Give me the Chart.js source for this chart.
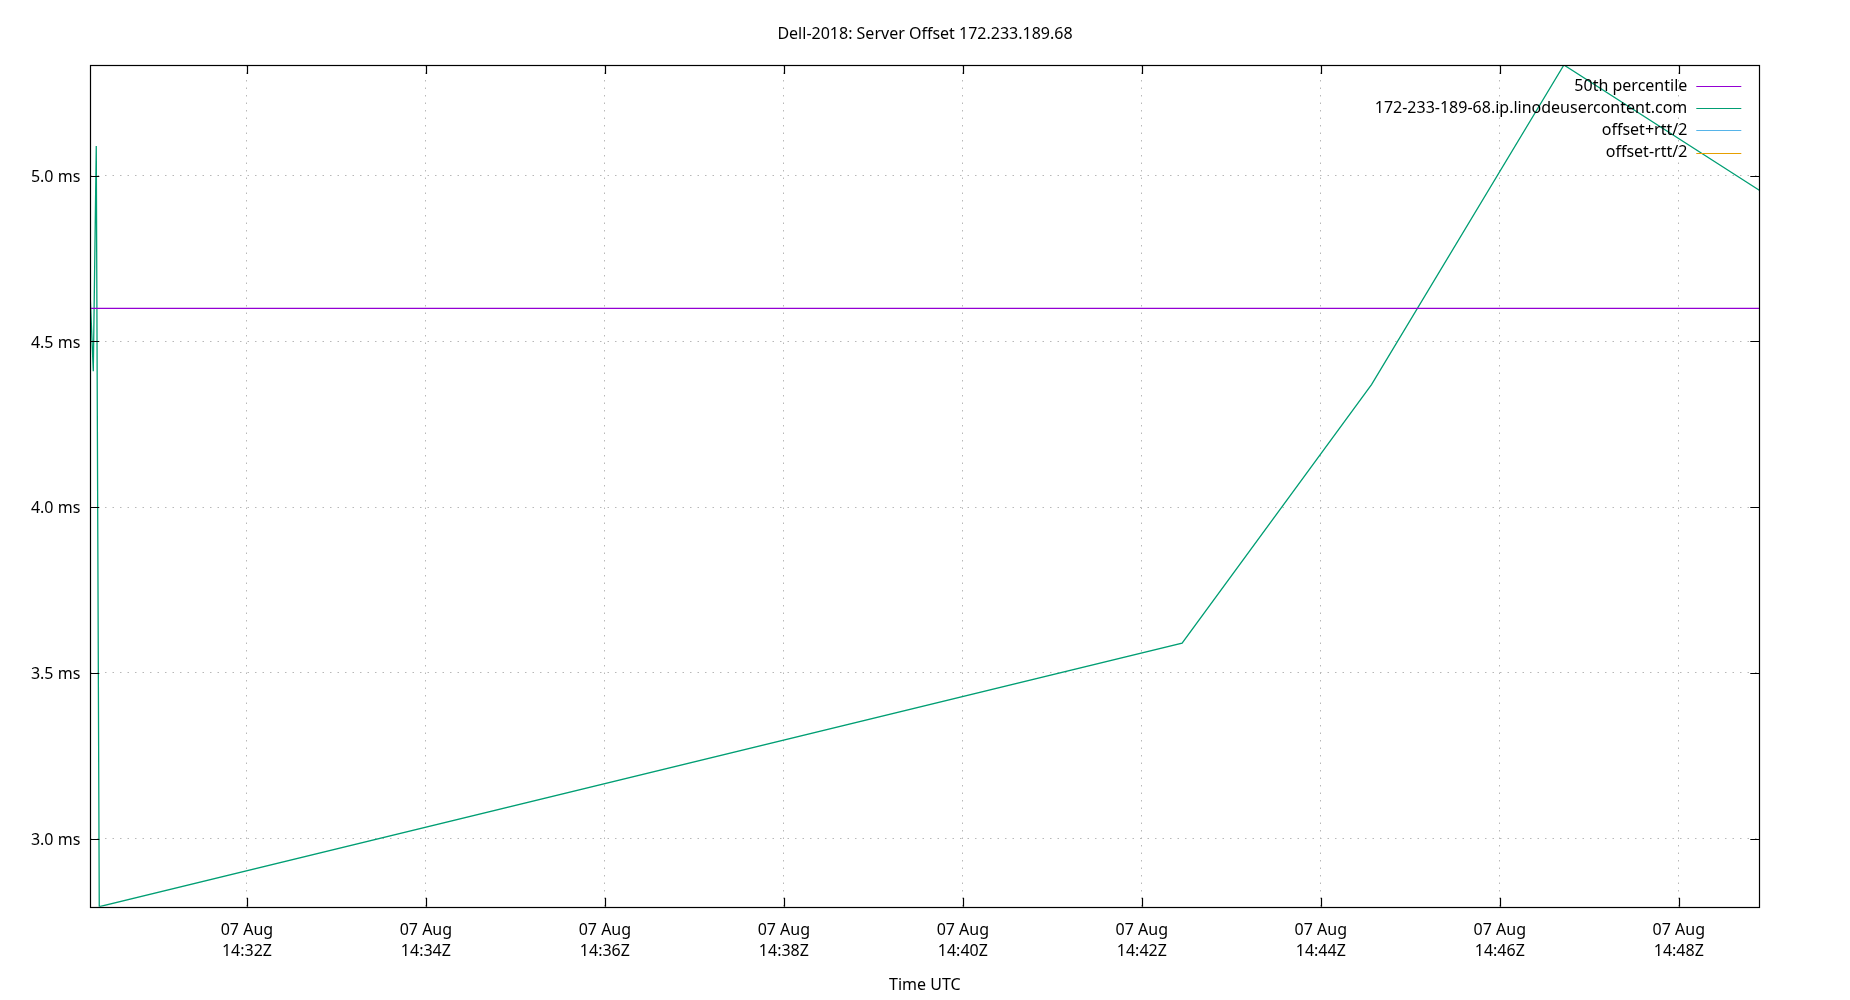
<!DOCTYPE html>
<html>
<head>
<meta charset="utf-8">
<title>Dell-2018: Server Offset 172.233.189.68</title>
<script src="https://cdn.jsdelivr.net/npm/chart.js@4.4.1/dist/chart.umd.min.js"></script>
<style>
  html, body { margin: 0; padding: 0; background: #fff; }
  #wrap { width: 1850px; height: 1000px; }
</style>
</head>
<body>
<div id="wrap"><canvas id="offsetChart" width="1850" height="1000"></canvas></div>
<script>
// Samples (UTC, 07 Aug)
const sampleTimes = ["14:30:15", "14:30:17", "14:30:19", "14:30:21", "14:42:27", "14:44:34", "14:46:43", "14:48:54"];
const offsetMs = [4.63, 4.41, 5.09, 2.795, 3.59, 4.37, 5.334, 4.956];
const percentile50 = 4.6;
const offsetPlusRtt = [];
const offsetMinusRtt = [];
const dateLabel = "07 Aug";

const seriesLabels = ["50th percentile", "172-233-189-68.ip.linodeusercontent.com", "offset+rtt/2", "offset-rtt/2"];
const seriesColors = ["#9400d3", "#009e73", "#56b4e9", "#e69f00"];

const FONT = "'Noto Sans', 'DejaVu Sans', sans-serif";
const FS = 16;

function toSec(t) {
    const p = t.split(":").map(Number);
    return p[0] * 3600 + p[1] * 60 + p[2];
}
function pad2(n) { return String(n).padStart(2, "0"); }

const xs = sampleTimes.map(toSec);
const xMin = xs[0];
const xMax = xs[xs.length - 1];
const yMin = Math.min(...offsetMs);
const yMax = Math.max(...offsetMs);

// gnuplot-style frame, inward ticks and right-aligned key
const gnuplotLook = {
    id: "gnuplotLook",
    afterDraw(chart) {
        const ctx = chart.ctx;
        const a = chart.chartArea;
        const xScale = chart.scales.x;
        const yScale = chart.scales.y;
        const tl = 9;
        ctx.save();
        ctx.strokeStyle = "#000";
        ctx.lineWidth = 1.2;
        ctx.beginPath();
        xScale.ticks.forEach(t => {
            const px = Math.round(xScale.getPixelForValue(t.value)) + 0.5;
            ctx.moveTo(px, a.bottom); ctx.lineTo(px, a.bottom - tl);
            ctx.moveTo(px, a.top); ctx.lineTo(px, a.top + tl);
        });
        yScale.ticks.forEach(t => {
            const py = Math.round(yScale.getPixelForValue(t.value)) + 0.5;
            ctx.moveTo(a.left, py); ctx.lineTo(a.left + tl, py);
            ctx.moveTo(a.right, py); ctx.lineTo(a.right - tl, py);
        });
        ctx.stroke();
        ctx.strokeRect(Math.round(a.left) + 0.5, Math.round(a.top) + 0.5,
            Math.round(a.right - a.left), Math.round(a.bottom - a.top));

        // key
        ctx.font = FS + "px " + FONT;
        ctx.textAlign = "right";
        ctx.textBaseline = "middle";
        const textRight = a.right - 72;
        const sampleX0 = a.right - 63;
        const sampleX1 = a.right - 18;
        chart.data.datasets.forEach((ds, i) => {
            const y = a.top + 21 + i * 22.2;
            ctx.fillStyle = "#000";
            ctx.fillText(ds.label, textRight, y);
            ctx.strokeStyle = ds.borderColor;
            ctx.lineWidth = 1.2;
            ctx.beginPath();
            ctx.moveTo(sampleX0, Math.round(y) + 0.5);
            ctx.lineTo(sampleX1, Math.round(y) + 0.5);
            ctx.stroke();
        });
        ctx.restore();
    }
};

new Chart(document.getElementById("offsetChart"), {
    type: "line",
    data: {
        datasets: [
            {
                label: seriesLabels[0],
                data: [{ x: xMin, y: percentile50 }, { x: xMax, y: percentile50 }],
                borderColor: seriesColors[0],
                borderWidth: 1.2
            },
            {
                label: seriesLabels[1],
                data: xs.map((x, i) => ({ x: x, y: offsetMs[i] })),
                borderColor: seriesColors[1],
                borderWidth: 1.3
            },
            {
                label: seriesLabels[2],
                data: offsetPlusRtt,
                borderColor: seriesColors[2],
                borderWidth: 1.2
            },
            {
                label: seriesLabels[3],
                data: offsetMinusRtt,
                borderColor: seriesColors[3],
                borderWidth: 1.2
            }
        ]
    },
    options: {
        responsive: false,
        animation: false,
        devicePixelRatio: 1,
        elements: { point: { radius: 0 }, line: { tension: 0, fill: false } },
        layout: { padding: 0 },
        plugins: {
            legend: { display: false },
            tooltip: { enabled: false },
            title: {
                display: true,
                text: "Dell-2018: Server Offset 172.233.189.68",
                color: "#000",
                font: { family: FONT, size: FS, weight: "normal", lineHeight: 1.2 },
                padding: { top: 24.5, bottom: 65 - 24.5 - FS * 1.2 }
            }
        },
        scales: {
            x: {
                type: "linear",
                min: xMin,
                max: xMax,
                afterFit: s => { s.height = 93.3; },
                grid: { color: "#b8b8b8", lineWidth: 1, drawTicks: false },
                border: { display: false, dash: [1.5, 6] },
                ticks: {
                    stepSize: 120,
                    includeBounds: false,
                    autoSkip: false,
                    maxRotation: 0,
                    padding: 13.5,
                    color: "#000",
                    font: { family: FONT, size: FS, lineHeight: 1.31 },
                    callback: v => {
                        const h = Math.floor(v / 3600);
                        const m = Math.floor((v % 3600) / 60);
                        return [dateLabel, pad2(h) + ":" + pad2(m) + "Z"];
                    }
                },
                title: {
                    display: true,
                    text: "Time UTC",
                    color: "#000",
                    font: { family: FONT, size: FS, lineHeight: 1.2 },
                    padding: { top: 0, bottom: 5 }
                }
            },
            y: {
                min: yMin,
                max: yMax,
                afterFit: s => { s.width = 90.3; },
                grid: { color: "#b8b8b8", lineWidth: 1, drawTicks: false },
                border: { display: false, dash: [1.5, 6] },
                ticks: {
                    stepSize: 0.5,
                    includeBounds: false,
                    padding: 10,
                    labelOffset: 1.5,
                    color: "#000",
                    font: { family: FONT, size: FS },
                    callback: v => v.toFixed(1) + " ms"
                }
            },
            // empty right-hand margin, keeps the title centred on the page
            yRight: {
                position: "right",
                afterFit: s => { s.width = 90.7; },
                grid: { display: false, drawTicks: false },
                border: { display: false },
                ticks: { display: false }
            }
        }
    },
    plugins: [gnuplotLook]
});
</script>
</body>
</html>
